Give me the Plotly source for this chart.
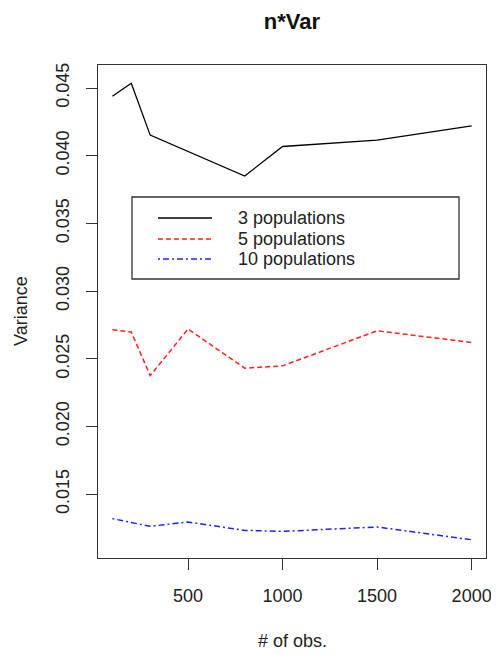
import plotly.graph_objects as go

obs = [100, 200, 300, 500, 800, 1000, 1500, 2000]
pop3 = [0.04439, 0.04535, 0.04152, 0.04031, 0.03850, 0.04068, 0.04115, 0.04221]
pop5 = [0.02715, 0.02698, 0.02376, 0.02720, 0.02431, 0.02448, 0.02707, 0.02621]
pop10 = [0.01320, 0.01290, 0.01263, 0.01295, 0.01233, 0.01226, 0.01258, 0.01164]
series_names = ["3 populations", "5 populations", "10 populations"]
x_ticks = [500, 1000, 1500, 2000]
y_ticks = [0.015, 0.020, 0.025, 0.030, 0.035, 0.040, 0.045]
y_ticklabels = ["0.015", "0.020", "0.025", "0.030", "0.035", "0.040", "0.045"]

FONT = "Liberation Sans, Arial, sans-serif"
styles = [
    dict(color="#000000", dash="solid", width=1.3),
    dict(color="#FF2020", dash="5px,3px", width=1.5),
    dict(color="#2020FF", dash="2px,3px,6px,3px", width=1.5),
]

fig = go.Figure()
for name, vals, st in zip(series_names, [pop3, pop5, pop10], styles):
    fig.add_trace(go.Scatter(x=obs, y=vals, mode="lines", name=name,
                             line=st, showlegend=False))

# R-style 4% padding
xmin, xmax = min(obs), max(obs)
allv = pop3 + pop5 + pop10
ymin, ymax = min(allv), max(allv)
xpad = 0.04 * (xmax - xmin)
ypad = 0.04 * (ymax - ymin)

# page has an 8px body margin: figure occupies page (8,8)-(499,655)
OFF = 8
W, H = 499 - OFF, 655 - OFF
L, T, R_, B_ = 98, 65, 486, 558          # plot box in page pixels
PW, PH = R_ - L, B_ - T

fig.update_layout(
    width=W, height=H,
    margin=dict(l=L - OFF, r=W - (R_ - OFF), t=T - OFF, b=H - (B_ - OFF), pad=0),
    paper_bgcolor="white", plot_bgcolor="white",
    font=dict(family=FONT, size=18, color="#222222"),
    title=dict(text="<b>n*Var</b>", x=(292 - OFF) / W, xanchor="center",
               y=1 - (21 - OFF) / H, yanchor="middle", yref="container",
               font=dict(family=FONT, size=22, color="#111111")),
    xaxis=dict(range=[xmin - xpad, xmax + xpad], tickvals=x_ticks,
               ticks="outside", ticklen=11, tickwidth=1, tickcolor="#333333",
               showline=True, linecolor="#333333", linewidth=1, mirror=True,
               showgrid=False, zeroline=False, ticklabelstandoff=10,
               automargin=False,
               tickfont=dict(size=18, color="#222222")),
    yaxis=dict(range=[ymin - ypad, ymax + ypad], tickvals=y_ticks,
               ticktext=y_ticklabels, tickangle=-90,
               ticks="outside", ticklen=11, tickwidth=1, tickcolor="#333333",
               showline=True, linecolor="#333333", linewidth=1, mirror=True,
               showgrid=False, zeroline=False, ticklabelstandoff=10,
               automargin=False,
               tickfont=dict(size=18, color="#222222")),
)

def px(xp):
    return (xp - L) / PW
def py(yp):
    return (B_ - yp) / PH

# axis titles
fig.add_annotation(text="# of obs.", xref="paper", yref="paper",
                   x=px(292), y=py(641), showarrow=False,
                   xanchor="center", yanchor="middle",
                   font=dict(size=18, color="#222222"))
fig.add_annotation(text="Variance", xref="paper", yref="paper",
                   x=px(21), y=py(311), showarrow=False, textangle=-90,
                   xanchor="center", yanchor="middle",
                   font=dict(size=18, color="#222222"))

# legend box
fig.add_shape(type="rect", xref="paper", yref="paper",
              x0=px(132), x1=px(459), y0=py(279), y1=py(197),
              line=dict(color="#333333", width=1.3), fillcolor="white")
rows = [218, 239, 259]
for name, st, yr in zip(series_names, styles, rows):
    fig.add_shape(type="line", xref="paper", yref="paper",
                  x0=px(158), x1=px(212), y0=py(yr), y1=py(yr),
                  line=dict(color=st["color"], dash=st["dash"], width=st["width"]))
    fig.add_annotation(text=name, xref="paper", yref="paper",
                       x=px(236), y=py(yr), showarrow=False,
                       xanchor="left", yanchor="middle",
                       font=dict(size=18, color="#222222"))

fig.write_html("out.html")
